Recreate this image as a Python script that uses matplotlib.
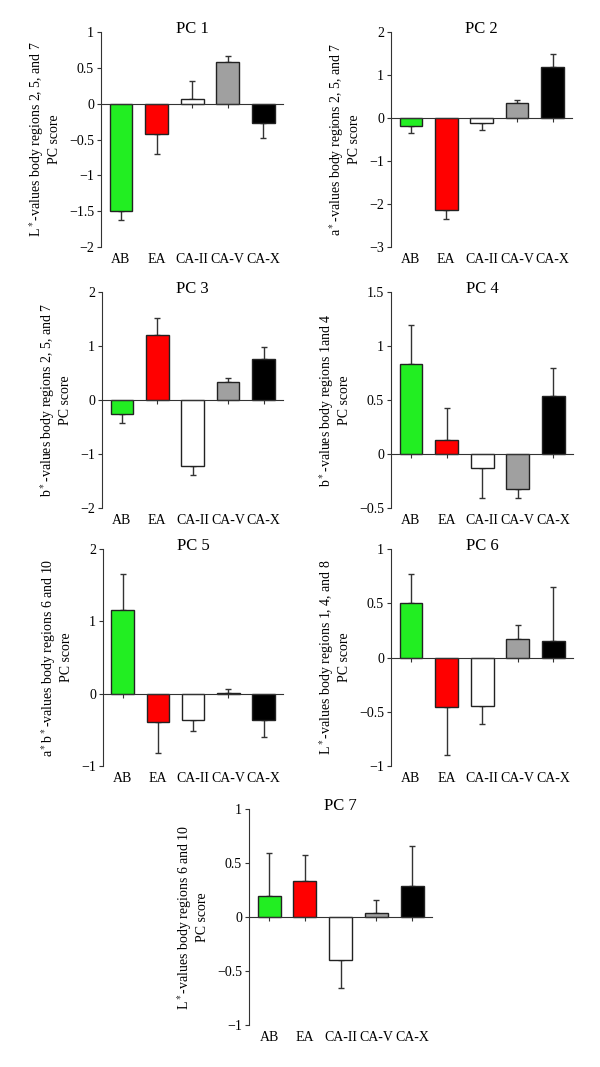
import matplotlib
matplotlib.use("Agg")
import matplotlib.pyplot as plt
from matplotlib.ticker import FuncFormatter

plt.rcParams["font.family"] = ["Liberation Serif", "DejaVu Serif"]
plt.rcParams["mathtext.fontset"] = "stix"
plt.rcParams["font.size"] = 10

groups = ["AB", "EA", "CA-II", "CA-V", "CA-X"]
bar_colors = ["#22ee22", "#ff0000", "#ffffff", "#a0a0a0", "#000000"]

pc1_means = [-1.50, -0.42, 0.07, 0.58, -0.27]
pc1_errs = [0.13, 0.28, 0.25, 0.08, 0.21]
pc2_means = [-0.19, -2.15, -0.12, 0.36, 1.19]
pc2_errs = [0.16, 0.21, 0.17, 0.07, 0.29]
pc3_means = [-0.25, 1.20, -1.22, 0.33, 0.76]
pc3_errs = [0.18, 0.32, 0.16, 0.07, 0.22]
pc4_means = [0.83, 0.13, -0.13, -0.32, 0.54]
pc4_errs = [0.36, 0.30, 0.28, 0.09, 0.26]
pc5_means = [1.15, -0.39, -0.36, 0.01, -0.36]
pc5_errs = [0.51, 0.43, 0.16, 0.05, 0.24]
pc6_means = [0.50, -0.46, -0.45, 0.17, 0.15]
pc6_errs = [0.27, 0.44, 0.16, 0.13, 0.50]
pc7_means = [0.19, 0.33, -0.40, 0.04, 0.29]
pc7_errs = [0.40, 0.24, 0.26, 0.12, 0.37]

titles = ["PC 1", "PC 2", "PC 3", "PC 4", "PC 5", "PC 6", "PC 7"]
ylabels = [
    "L$^*$-values body regions 2, 5, and 7\nPC score",
    "a$^*$-values body regions 2, 5, and 7\nPC score",
    "b$^*$-values body regions 2, 5, and 7\nPC score",
    "b$^*$-values body regions 1and 4\nPC score",
    "a$^*$b$^*$-values body regions 6 and 10\nPC score",
    "L$^*$-values body regions 1, 4, and 8\nPC score",
    "L$^*$-values body regions 6 and 10\nPC score",
]
yticks = [
    [-2, -1.5, -1, -0.5, 0, 0.5, 1],
    [-3, -2, -1, 0, 1, 2],
    [-2, -1, 0, 1, 2],
    [-0.5, 0, 0.5, 1, 1.5],
    [-1, 0, 1, 2],
    [-1, -0.5, 0, 0.5, 1],
    [-1, -0.5, 0, 0.5, 1],
]
means = [pc1_means, pc2_means, pc3_means, pc4_means, pc5_means, pc6_means, pc7_means]
errs = [pc1_errs, pc2_errs, pc3_errs, pc4_errs, pc5_errs, pc6_errs, pc7_errs]

# axes boxes in pixels: left, right, top, bottom
W, H = 600, 1067
boxes = [
    (101, 283, 32, 247),
    (391, 572, 32, 247),
    (102, 283, 292, 508),
    (391, 573, 292, 508),
    (103, 283, 549, 766),
    (391, 573, 549, 766),
    (249, 432, 809, 1025),
]

fig = plt.figure(figsize=(W / 100, H / 100), dpi=100)
line_col = "#333333"
fmt = FuncFormatter(lambda v, _: "{:g}".format(v).replace("-", "\u2212"))

for i in range(7):
    l, r, t, b = boxes[i]
    ax = fig.add_axes([l / W, 1 - b / H, (r - l) / W, (b - t) / H])
    x = list(range(len(groups)))
    vals = means[i]
    lower = [e if v < 0 else 0 for v, e in zip(vals, errs[i])]
    upper = [e if v >= 0 else 0 for v, e in zip(vals, errs[i])]
    ax.bar(x, vals, width=0.64, color=bar_colors, edgecolor="#222222",
           linewidth=1.0, zorder=2)
    ax.errorbar(x, vals, yerr=[lower, upper], fmt="none", ecolor=line_col,
                elinewidth=1.0, capsize=2.5, capthick=1.0, zorder=1)

    ax.set_xlim(-0.56, 4.55)
    ax.set_ylim(yticks[i][0], yticks[i][-1])
    ax.set_yticks(yticks[i])
    ax.yaxis.set_major_formatter(fmt)

    for s in ("top", "right"):
        ax.spines[s].set_visible(False)
    ax.spines["bottom"].set_position(("data", 0))
    ax.spines["left"].set_color(line_col)
    ax.spines["bottom"].set_color(line_col)
    ax.set_xticks(x)
    ax.tick_params(axis="x", direction="out", length=3, color=line_col,
                   labelbottom=False)
    ax.tick_params(axis="y", direction="out", length=3, color=line_col, pad=2)

    sec = ax.secondary_xaxis(0)
    sec.set_xticks(x, groups)
    sec.tick_params(length=0, pad=4)
    sec.spines["bottom"].set_visible(False)

    ax.set_title(titles[i], y=1.0, pad=-1)
    ax.set_ylabel(ylabels[i], linespacing=1.15, labelpad=6)

fig.savefig("out.png", dpi=100)
